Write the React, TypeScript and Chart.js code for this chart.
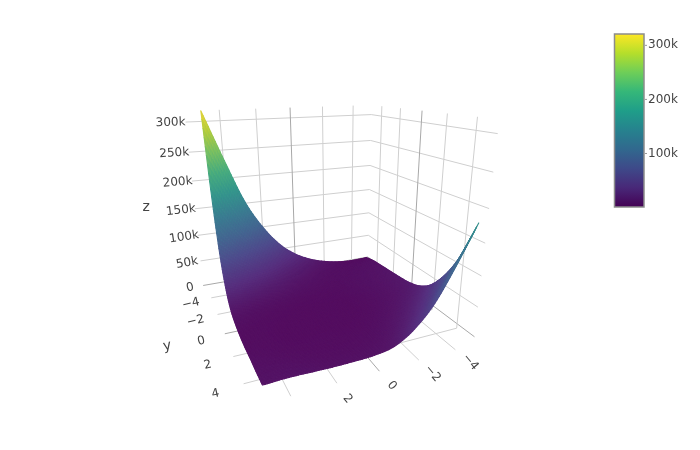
import React, { useEffect, useRef } from "react";
import { Chart, registerables } from "chart.js";

Chart.register(...registerables);

// Surface heights (thousands), rows y = -5..5, columns x = -5..5
const xGrid = [-5, -4, -3, -2, -1, 0, 1, 2, 3, 4, 5];
const yGrid = [-5, -4, -3, -2, -1, 0, 1, 2, 3, 4, 5];
const zRowM5 = [3, 2, 4, 10, 20, 36, 61, 100, 154, 233, 318];
const zRowM4 = [8, 6, 5, 6, 10, 18, 31, 52, 82, 124, 180];
const zRowM3 = [10, 8, 6, 5, 6, 9, 15, 25, 40, 60, 88];
const zRowM2 = [12, 9, 7, 5, 4, 5, 7, 11, 17, 26, 38];
const zRowM1 = [14, 10, 7, 5, 3, 3, 3, 4, 6, 9, 14];
const zRow0 = [17, 11, 7, 4, 2, 2, 2, 2, 3, 4, 6];
const zRow1 = [24, 14, 8, 4, 2, 2, 2, 2, 2, 3, 3];
const zRow2 = [40, 23, 12, 6, 3, 2, 2, 2, 2, 3, 3];
const zRow3 = [70, 40, 21, 10, 5, 3, 3, 3, 3, 4, 5];
const zRow4 = [114, 70, 38, 18, 8, 5, 4, 4, 5, 6, 6];
const zRow5 = [178, 120, 68, 34, 14, 8, 7, 7, 8, 9, 8];
const zTable = [zRowM5, zRowM4, zRowM3, zRowM2, zRowM1, zRow0, zRow1, zRow2, zRow3, zRow4, zRow5];

const xyTicks = [-4, -2, 0, 2, 4];
const zTicks = [0, 50, 100, 150, 200, 250, 300];
const barTicks = [100, 200, 300];
const viridis = ["#440154", "#482878", "#3e4989", "#31688e", "#26828e", "#1f9e89", "#35b779", "#6ece58", "#b5de2b", "#fde725"];
const zMin = 1;
const zMax = 321;

// camera: box corner (x, y, z) -> picture position, solved by least squares
const B = 5.25;
const Z0 = -8;
const ZTOP = 318;
const cameraAnchors: number[][] = [
  [-B, -B, 0, 367, 258],
  [-B, -B, 300, 372, 114],
  [-B, B, 0, 475, 336],
  [-B, B, 300, 497, 134],
  [B, -B, 0, 213, 283],
  [B, -B, 300, 196, 122],
  [B, B, 0, 258, 397],
  [-B, 4, Z0, 457, 328],
];

function solveCamera(): number[] {
  const n = 11;
  const A = Array.from({ length: n }, () => new Array(n + 1).fill(0));
  const add = (r: number[], v: number) => {
    for (let i = 0; i < n; i++) {
      for (let j = 0; j < n; j++) A[i][j] += r[i] * r[j];
      A[i][n] += r[i] * v;
    }
  };
  for (const [x, y, z0, u, v] of cameraAnchors) {
    const z = z0 / 100;
    add([x, y, z, 1, 0, 0, 0, 0, -u * x, -u * y, -u * z], u);
    add([0, 0, 0, 0, x, y, z, 1, -v * x, -v * y, -v * z], v);
  }
  for (let i = 0; i < n; i++) A[i][i] += 1e-7;
  for (let i = 0; i < n; i++) {
    let p = i;
    for (let r = i + 1; r < n; r++) if (Math.abs(A[r][i]) > Math.abs(A[p][i])) p = r;
    [A[i], A[p]] = [A[p], A[i]];
    for (let r = 0; r < n; r++) {
      if (r === i) continue;
      const f = A[r][i] / A[i][i];
      for (let c = i; c <= n; c++) A[r][c] -= f * A[i][c];
    }
  }
  return A.map((row, i) => row[n] / row[i]);
}
const cam = solveCamera();
function project(x: number, y: number, zk: number) {
  const z = zk / 100;
  const w = cam[8] * x + cam[9] * y + cam[10] * z + 1;
  return {
    x: (cam[0] * x + cam[1] * y + cam[2] * z + cam[3]) / w,
    y: (cam[4] * x + cam[5] * y + cam[6] * z + cam[7]) / w,
  };
}

function hex(c: string) {
  return [1, 3, 5].map((i) => parseInt(c.slice(i, i + 2), 16));
}
const viridisRgb = viridis.map(hex);
function colorAt(t0: number) {
  const t = Math.max(0, Math.min(1, t0)) * (viridisRgb.length - 1);
  const i = Math.min(viridisRgb.length - 2, Math.floor(t));
  const f = t - i;
  const c = viridisRgb[i].map((v, k) => v + (viridisRgb[i + 1][k] - v) * f);
  // the scene's lighting softens the palette a little
  return `rgb(${Math.round(c[0] * 0.85 + 26)},${Math.round(c[1] * 0.87 + 12)},${Math.round(c[2] * 0.85 + 24)})`;
}

function cr(p: number[], t: number) {
  const n = p.length;
  const i = Math.min(n - 2, Math.floor(t));
  const f = t - i;
  const a = i > 0 ? p[i - 1] : 2 * p[0] - p[1];
  const b = p[i];
  const c = p[i + 1];
  const d = i < n - 2 ? p[i + 2] : 2 * p[n - 1] - p[n - 2];
  return 0.5 * (2 * b + (c - a) * f + (2 * a - 5 * b + 4 * c - d) * f * f + (3 * b - a - 3 * c + d) * f * f * f);
}
function zAt(u: number, v: number) {
  const col = zTable.map((row) => cr(row, u));
  return Math.max(zMin, cr(col, v));
}

const surfacePlugin = {
  id: "surface",
  afterDatasetsDraw(chart: any) {
    const { ctx, scales } = chart;
    const sx = scales.x;
    const sy = scales.y;
    const sub = 10;
    const nu = (xGrid.length - 1) * sub;
    const nv = (yGrid.length - 1) * sub;
    const pts: any[][] = [];
    for (let j = 0; j <= nv; j++) {
      const row: any[] = [];
      for (let i = 0; i <= nu; i++) {
        const u = i / sub;
        const v = j / sub;
        const z = zAt(u, v);
        const p = project(xGrid[0] + u, yGrid[0] + v, z);
        row.push({ px: sx.getPixelForValue(p.x), py: sy.getPixelForValue(p.y), z });
      }
      pts.push(row);
    }
    ctx.save();
    ctx.lineWidth = 1.1;
    ctx.lineJoin = "round";
    for (let j = 0; j < nv; j++) {
      for (let i = 0; i < nu; i++) {
        const a = pts[j][i];
        const b = pts[j][i + 1];
        const c = pts[j + 1][i + 1];
        const d = pts[j + 1][i];
        const col = colorAt(((a.z + b.z + c.z + d.z) / 4 - zMin) / (zMax - zMin));
        ctx.fillStyle = col;
        ctx.strokeStyle = col;
        ctx.beginPath();
        ctx.moveTo(a.px, a.py);
        ctx.lineTo(b.px, b.py);
        ctx.lineTo(c.px, c.py);
        ctx.lineTo(d.px, d.py);
        ctx.closePath();
        ctx.fill();
        ctx.stroke();
      }
    }
    ctx.restore();

    // axis text, cut where the 3D scene ends
    ctx.save();
    ctx.beginPath();
    ctx.rect(0, 0, 700, 410);
    ctx.clip();
    ctx.fillStyle = "#444";
    ctx.textAlign = "center";
    ctx.textBaseline = "middle";
    const put = (s: string, p: { x: number; y: number }, deg: number, size = 12) => {
      ctx.save();
      ctx.translate(sx.getPixelForValue(p.x), sy.getPixelForValue(p.y));
      ctx.rotate((deg * Math.PI) / 180);
      ctx.font = `${size}px "DejaVu Sans"`;
      ctx.fillText(s, 0, 0);
      ctx.restore();
    };
    const minus = (v: number) => (v < 0 ? "\u2212" + -v : String(v));
    zTicks.forEach((z) => {
      put(z === 0 ? "0" : z + "k", project(B + 1.3, -B, z), -2 - (300 - z) / 30);
    });
    xyTicks.forEach((y) => put(minus(y), project(B + 1.45, y, Z0 - 4), -13));
    xyTicks.forEach((x) => put(minus(x), project(x, B + 1.2, Z0), 50));
    put("z", project(B + 3.05, -B, 162), 0, 14);
    put("y", project(B + 3, 0, Z0), -10, 14);
    put("x", project(0, B + 3.1, Z0), 45, 14);
    ctx.restore();

    // colour bar
    const yTop = sy.getPixelForValue(34);
    const yBot = sy.getPixelForValue(207);
    const left = sx.getPixelForValue(614.5);
    const right = sx.getPixelForValue(644);
    const grad = ctx.createLinearGradient(0, yBot, 0, yTop);
    viridis.forEach((c, i) => grad.addColorStop(i / (viridis.length - 1), c));
    ctx.fillStyle = grad;
    ctx.fillRect(left, yTop, right - left, yBot - yTop);
    ctx.strokeStyle = "#8c8c8c";
    ctx.lineWidth = 1.5;
    ctx.strokeRect(left, yTop, right - left, yBot - yTop);
    ctx.fillStyle = "#444";
    ctx.font = '12px "DejaVu Sans"';
    ctx.textAlign = "left";
    ctx.textBaseline = "middle";
    barTicks.forEach((t) => {
      const y = yBot + ((t - zMin) / (zMax - zMin)) * (yTop - yBot);
      ctx.strokeStyle = "#999";
      ctx.lineWidth = 1;
      ctx.beginPath();
      ctx.moveTo(right + 1, y);
      ctx.lineTo(right + 3, y);
      ctx.stroke();
      ctx.fillText(t + "k", right + 4, y);
    });
  },
};

function line(a: number[], b: number[], color: string, width = 1) {
  return {
    showLine: true,
    pointRadius: 0,
    borderColor: color,
    borderWidth: width,
    data: [project(a[0], a[1], a[2]), project(b[0], b[1], b[2])],
  };
}

function buildDatasets() {
  const grid = "#cfcfcf";
  const zero = "#a8a8a8";
  const out: any[] = [];
  const c = (v: number) => (v === 0 ? zero : grid);
  xyTicks.forEach((x) => out.push(line([x, -B, Z0], [x, -B, ZTOP], c(x))));
  xyTicks.forEach((y) => out.push(line([-B, y, Z0], [-B, y, ZTOP], c(y))));
  zTicks.forEach((z) => {
    out.push(line([B + 0.55, -B, z], [-B, -B, z], z === 0 ? zero : grid));
    out.push(line([-B, -B, z], [-B, B, z], z === 0 ? zero : grid));
  });
  xyTicks.forEach((x) => out.push(line([x, -B, Z0], [x, B + 0.2, Z0], c(x))));
  xyTicks.forEach((y) => out.push(line([-B, y, Z0], [B + 0.3, y, Z0], c(y))));
  out.push({
    label: "surface",
    pointRadius: 0,
    showLine: false,
    data: zTable.flatMap((row, j) => row.map((z, i) => project(xGrid[i], yGrid[j], z))),
  });
  return out;
}

export default function App() {
  const ref = useRef<HTMLCanvasElement>(null);
  useEffect(() => {
    const chart = new Chart(ref.current as HTMLCanvasElement, {
      type: "scatter",
      data: { datasets: buildDatasets() },
      options: {
        animation: false,
        responsive: false,
        layout: { padding: 0 },
        plugins: { legend: { display: false }, tooltip: { enabled: false } },
        scales: {
          x: { type: "linear", min: 0, max: 700, display: false },
          y: { type: "linear", min: 0, max: 450, reverse: true, display: false },
        },
      },
      plugins: [surfacePlugin],
    } as any);
    return () => chart.destroy();
  }, []);
  return (
    <canvas
      ref={ref}
      width={700}
      height={450}
      style={{ position: "absolute", left: 0, top: 0, width: 700, height: 450, display: "block" }}
    />
  );
}
